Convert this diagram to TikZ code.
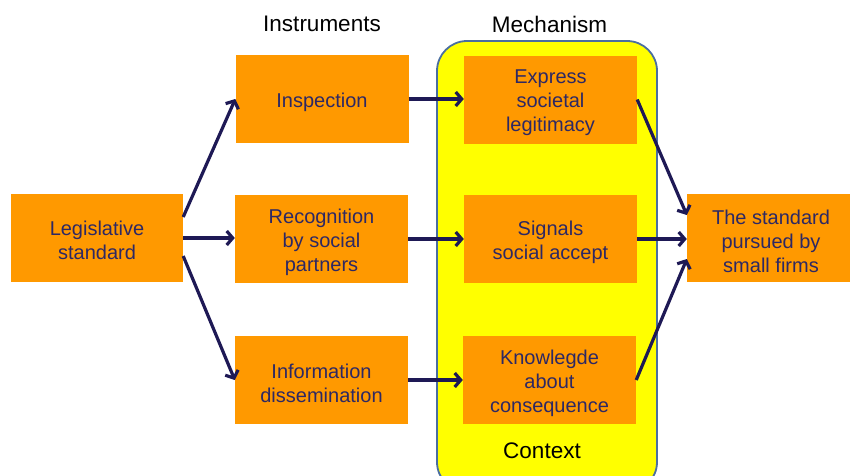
\documentclass[tikz,border=0pt]{standalone}
\usepackage{fontspec}
\setmainfont{Liberation Sans}
\usetikzlibrary{arrows.meta}
\definecolor{boxorange}{RGB}{255,153,0}
\definecolor{ctxyellow}{RGB}{255,255,0}
\definecolor{ctxborder}{RGB}{74,110,160}
\definecolor{navytext}{RGB}{45,40,100}
\definecolor{navyarrow}{RGB}{30,25,85}
\begin{document}
\begin{tikzpicture}[x=1pt,y=-1pt,
  box/.style={fill=boxorange, draw=none, minimum width=173pt, minimum height=88pt, inner sep=0pt},
  boxtext/.style={align=center, text=navytext, font=\fontsize{20}{24}\selectfont, inner sep=0pt},
  head/.style={font=\fontsize{22.5}{26}\selectfont, text=black, inner sep=0pt},
  conn/.style={draw=navyarrow, line width=3.2pt,
    -{Straight Barb[length=6pt,width=14pt]}}]
\useasboundingbox (0,0) rectangle (850,475);
% context area
\draw[fill=ctxyellow, draw=ctxborder, line width=1.8pt, rounded corners=30pt]
  (437,41) rectangle (657,492);
% headers
\node[head] (hinst) at (322,24) {Instruments};
\node[head] (hmech) at (549.5,24) {Mechanism};
\node[head] (hctx) at (542,451) {Context};
% boxes
\node[box, minimum width=172pt] (leg) at (97,238) {};
\node[box] (insp) at (322,99) {};
\node[box] (recog) at (321.5,239) {};
\node[box] (info) at (321.5,380) {};
\node[box] (expr) at (550.5,99.5) {};
\node[box] (sig) at (550.5,239) {};
\node[box] (know) at (549.5,380) {};
\node[box, minimum width=168pt] (std) at (771,238) {};
% box texts
\node[boxtext] (legt) at ([yshift=-2.5pt]leg.center) {Legislative\\standard};
\node[boxtext] (inspt) at ([yshift=-3pt]insp.center) {Inspection};
\node[boxtext] (recogt) at ([yshift=-3pt]recog.center) {Recognition\\by social\\partners};
\node[boxtext] (infot) at ([yshift=-3pt]info.center) {Information\\dissemination};
\node[boxtext] (exprt) at ([yshift=-3pt]expr.center) {Express\\societal\\legitimacy};
\node[boxtext] (sigt) at ([yshift=-3pt]sig.center) {Signals\\social accept};
\node[boxtext] (knowt) at ([yshift=-3pt]know.center) {Knowlegde\\about\\consequence};
\node[boxtext] (stdt) at ([yshift=-3pt]std.center) {The standard\\pursued by\\small firms};
% connectors
\draw[conn] ([yshift=21pt]leg.east) -- (insp.west);
\draw[conn] (leg.east) -- (leg.east -| recog.west);
\draw[conn] ([yshift=-18pt]leg.east) -- (info.west);
\draw[conn] (insp.east) -- (insp.east -| expr.west);
\draw[conn] (recog.east) -- (recog.east -| sig.west);
\draw[conn] (info.east) -- (info.east -| know.west);
\draw[conn] (expr.east) -- ([yshift=23pt]std.west);
\draw[conn] (sig.east) -- (sig.east -| std.west);
\draw[conn] (know.east) -- ([yshift=-21pt]std.west);
\end{tikzpicture}
\end{document}
